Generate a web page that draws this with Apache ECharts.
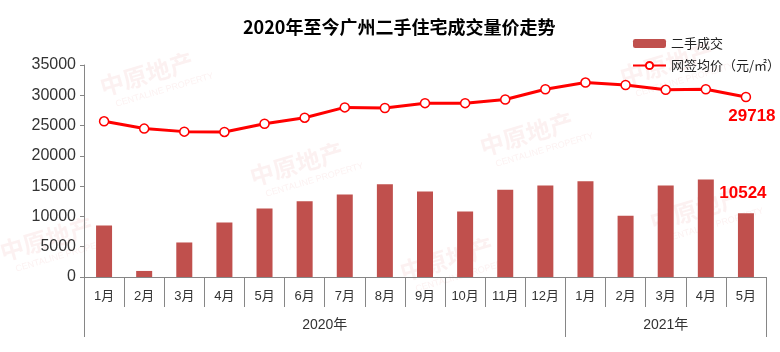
<!DOCTYPE html>
<html>
<head>
<meta charset="utf-8">
<script src="https://cdn.jsdelivr.net/npm/echarts@6/dist/echarts.min.js"></script>
<style>
  html, body { margin: 0; padding: 0; background: #fff; }
  #chart { width: 780px; height: 352px; }
</style>
</head>
<body>
<div id="chart"></div>
<script>
// 月份（2020年1月 ~ 2021年5月）
var months = ['1月','2月','3月','4月','5月','6月','7月','8月','9月','10月','11月','12月','1月','2月','3月','4月','5月'];
var years = ['2020年', '2021年'];
var yearSpans = [12, 5]; // 每年包含的月份数
var volume = [8500, 1000, 5700, 9000, 11300, 12500, 13600, 15300, 14100, 10800, 14400, 15100, 15800, 10100, 15100, 16100, 10524];
var price = [25700, 24500, 24000, 23950, 25300, 26300, 28000, 27900, 28700, 28700, 29300, 31000, 32100, 31700, 30900, 31000, 29718];
var yTicks = [0, 5000, 10000, 15000, 20000, 25000, 30000, 35000];

var font = '"Liberation Sans", Arial, "Noto Sans CJK SC", sans-serif';

// 年份分隔线和年份标签位置（第二条x轴用数值坐标）
var yearBounds = [0];
var yearCenters = [];
yearSpans.forEach(function (n) {
  var start = yearBounds[yearBounds.length - 1];
  yearCenters.push(start + n / 2);
  yearBounds.push(start + n);
});

// 水印
var marks = [[140, 80], [290, 170], [40, 245], [440, 265], [520, 140], [690, 215], [660, 70]];
var graphics = marks.map(function (p) {
  return {
    type: 'group', x: p[0], y: p[1], rotation: Math.PI / 11, silent: true,
    children: [
      { type: 'text', style: { text: '中原地产', x: -40, y: -16, font: 'bold 24px "Noto Sans CJK SC"', fill: 'rgba(230,120,120,0.10)' } },
      { type: 'text', style: { text: 'CENTALINE PROPERTY', x: -30, y: 12, font: '9px "Liberation Sans"', fill: 'rgba(230,120,120,0.10)' } }
    ]
  };
});

var chart = echarts.init(document.getElementById('chart'));
chart.setOption({
  animation: false,
  graphic: graphics,
  title: {
    text: '2020年至今广州二手住宅成交量价走势',
    left: 238,
    top: 13,
    textStyle: { fontSize: 18, fontWeight: 'bold', color: '#000', fontFamily: '"Noto Sans CJK SC", sans-serif' }
  },
  legend: {
    orient: 'vertical',
    left: 627,
    top: 32,
    itemGap: 9,
    itemWidth: 33,
    itemHeight: 9,
    textStyle: { fontSize: 13, color: '#222', fontFamily: '"Noto Sans CJK SC", sans-serif' },
    data: ['二手成交', '网签均价（元/㎡）']
  },
  grid: { left: 84, right: 14, top: 65, bottom: 75 },
  xAxis: [
    {
      type: 'category',
      data: months,
      boundaryGap: true,
      axisLine: { lineStyle: { color: '#868686', width: 1 } },
      axisTick: { show: true, interval: 0, length: 30, lineStyle: { color: '#868686' } },
      axisLabel: { interval: 0, margin: 13, fontSize: 13, color: '#333', fontFamily: font }
    },
    {
      type: 'value',
      position: 'bottom',
      min: 0,
      max: months.length,
      splitLine: { show: false },
      axisLine: { show: false },
      axisTick: { show: true, length: 60, customValues: yearBounds, lineStyle: { color: '#868686' } },
      axisLabel: {
        customValues: yearCenters,
        margin: 41,
        fontSize: 14,
        color: '#333',
        fontFamily: font,
        formatter: function (v) {
          var i = yearCenters.indexOf(v);
          return i >= 0 ? years[i] : '';
        }
      }
    }
  ],
  yAxis: {
    type: 'value',
    min: 0,
    max: 35000,
    interval: 5000,
    splitLine: { show: false },
    axisLine: { show: true, lineStyle: { color: '#868686' } },
    axisTick: { show: true, length: 4, lineStyle: { color: '#868686' } },
    axisLabel: {
      fontSize: 16, color: '#333', margin: 8, fontFamily: font,
      formatter: function (v) { return yTicks.indexOf(v) >= 0 ? String(v) : ''; }
    }
  },
  series: [
    {
      name: '二手成交',
      type: 'bar',
      barWidth: 16,
      itemStyle: { color: '#C0504D' },
      data: volume.map(function (v, i) {
        if (i === volume.length - 1) {
          return {
            value: v,
            label: { show: true, position: 'top', distance: 5, offset: [-3, -6], fontSize: 17, fontWeight: 'bold', color: '#FF0000', fontFamily: font }
          };
        }
        return v;
      })
    },
    {
      name: '网签均价（元/㎡）',
      type: 'line',
      color: '#FF0000',
      symbol: 'circle',
      symbolSize: 9,
      lineStyle: { width: 3, color: '#FF0000' },
      itemStyle: { color: '#fff', borderColor: '#FF0000', borderWidth: 1.5 },
      data: price.map(function (v, i) {
        if (i === price.length - 1) {
          return {
            value: v,
            label: { show: true, position: 'bottom', distance: 6, offset: [6, 0], fontSize: 17, fontWeight: 'bold', color: '#FF0000', fontFamily: font }
          };
        }
        return v;
      })
    }
  ]
});
</script>
</body>
</html>
